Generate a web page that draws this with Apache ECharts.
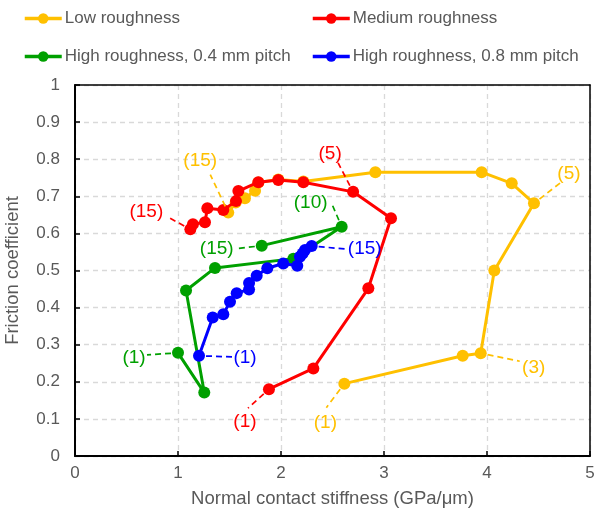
<!DOCTYPE html>
<html><head><meta charset="utf-8">
<script src="https://cdn.jsdelivr.net/npm/echarts@6/dist/echarts.min.js"></script>
<style>html,body{margin:0;padding:0;background:#fff}#c{width:595px;height:514px}</style>
</head><body><div id="c"></div>
<script>
// ---- data ----
const seriesNames = ['Low roughness', 'Medium roughness', 'High roughness, 0.4 mm pitch', 'High roughness, 0.8 mm pitch'];
const lowX  = [2.615, 3.764, 3.939, 4.071, 4.456, 4.240, 3.948, 2.916, 2.217, 1.974, 1.780, 1.748, 1.650, 1.560, 1.488];
const lowY  = [0.195, 0.270, 0.277, 0.500, 0.681, 0.735, 0.765, 0.765, 0.740, 0.745, 0.737, 0.715, 0.695, 0.683, 0.656];
const medX  = [1.883, 2.314, 2.848, 3.068, 2.700, 2.217, 1.974, 1.780, 1.586, 1.563, 1.440, 1.285, 1.262, 1.145, 1.120];
const medY  = [0.180, 0.236, 0.452, 0.641, 0.712, 0.738, 0.744, 0.738, 0.714, 0.687, 0.663, 0.668, 0.630, 0.625, 0.611];
const high4X = [1.000, 1.255, 1.078, 1.359, 2.120, 2.589, 1.813];
const high4Y = [0.278, 0.171, 0.446, 0.507, 0.532, 0.618, 0.567];
const high8X = [1.204, 1.337, 1.440, 1.505, 1.570, 1.690, 1.690, 1.764, 1.867, 2.022, 2.158, 2.184, 2.210, 2.233, 2.298];
const high8Y = [0.270, 0.373, 0.382, 0.416, 0.439, 0.449, 0.466, 0.486, 0.506, 0.519, 0.513, 0.537, 0.546, 0.555, 0.566];
const xTickValues = [0, 1, 2, 3, 4, 5];
const yTickValues = [0, 0.1, 0.2, 0.3, 0.4, 0.5, 0.6, 0.7, 0.8, 0.9, 1];
// annotation texts: [series index, point index, label]
const annotations = [
  [0, 14, '(15)'], [0, 4, '(5)'], [0, 2, '(3)'], [0, 0, '(1)'],
  [1, 4, '(5)'], [1, 14, '(15)'], [1, 0, '(1)'],
  [2, 5, '(10)'], [2, 6, '(15)'], [2, 0, '(1)'],
  [3, 14, '(15)'], [3, 0, '(1)']
];

// ---- styling / layout ----
const colors = ['#FFC000', '#FF0000', '#00A000', '#0000FF'];
const seriesXY = [[lowX, lowY], [medX, medY], [high4X, high4Y], [high8X, high8Y]];
// pixel offsets relative to the anchor point: leader end, text centre
const annotationLayout = [
  {end: [-18, -38], txt: [-28, -52]},
  {end: [27, -21], txt: [35, -30]},
  {end: [39, 8], txt: [53, 15]},
  {end: [-18, 24], txt: [-19, 39]},
  {end: [-15, -29], txt: [-23, -38]},
  {end: [-22, -12], txt: [-44, -18]},
  {end: [-21, 19], txt: [-24, 33]},
  {end: [-9, -21], txt: [-31, -24]},
  {end: [-25, 3], txt: [-45, 3]},
  {end: [-31, 2], txt: [-44, 5]},
  {end: [34, 3], txt: [53, 3]},
  {end: [33, 1], txt: [46, 2]}
];
const FONT = "'Liberation Sans', Arial, sans-serif";
const TXT = '#595959';

const zOrder = [1, 4, 2, 3];
const lineSeries = seriesXY.map((xy, s) => ({
  name: seriesNames[s],
  type: 'line',
  data: xy[0].map((x, i) => [x, xy[1][i]]),
  symbol: 'circle',
  symbolSize: 12,
  lineStyle: {color: colors[s], width: 3},
  itemStyle: {color: colors[s]},
  z: zOrder[s] + 2,
  animation: false
}));

const annoSeries = {
  type: 'custom',
  coordinateSystem: 'cartesian2d',
  data: annotations.map(a => [seriesXY[a[0]][0][a[1]], seriesXY[a[0]][1][a[1]], a[0]]),
  encode: {x: 0, y: 1},
  clip: false,
  silent: true,
  z: 10,
  animation: false,
  renderItem: function (params, api) {
    const p = api.coord([api.value(0), api.value(1)]);
    const lay = annotationLayout[params.dataIndex];
    const a = annotations[params.dataIndex];
    const c = colors[a[0]];
    const len = Math.hypot(lay.end[0], lay.end[1]);
    const g = 7 / len;
    return {
      type: 'group',
      children: [
        {type: 'line', shape: {x1: p[0] + lay.end[0] * g, y1: p[1] + lay.end[1] * g, x2: p[0] + lay.end[0], y2: p[1] + lay.end[1]},
         style: {stroke: c, lineWidth: 1.7, lineDash: [6, 4]}},
        {type: 'text', x: p[0] + lay.txt[0], y: p[1] + lay.txt[1],
         style: {text: a[2], fill: c, font: '19px ' + FONT, align: 'center', verticalAlign: 'middle', textAlign: 'center', textVerticalAlign: 'middle'}}
      ]
    };
  }
};

const legendBase = {
  orient: 'horizontal', padding: 0, itemWidth: 37, itemHeight: 13, itemGap: 10,
  lineStyle: {width: 3.5},
  textStyle: {color: TXT, fontSize: 17, fontFamily: FONT, padding: [0, 0, 0, -2]},
  selectedMode: false
};

const frameAxis = {
  type: 'value', axisLabel: {show: false}, axisTick: {show: false}, splitLine: {show: false},
  axisLine: {show: true, onZero: false, lineStyle: {color: '#000', width: 1.5}}
};

const chart = echarts.init(document.getElementById('c'), null, {renderer: 'canvas'});
chart.setOption({
  animation: false,
  backgroundColor: '#fff',
  legend: [
    Object.assign({}, legendBase, {data: [seriesNames[0]], left: 23, top: 10}),
    Object.assign({}, legendBase, {data: [seriesNames[1]], left: 311, top: 10}),
    Object.assign({}, legendBase, {data: [seriesNames[2]], left: 23, top: 48}),
    Object.assign({}, legendBase, {data: [seriesNames[3]], left: 311, top: 48})
  ],
  grid: {left: 75, right: 5, top: 85, bottom: 58, containLabel: false, outerBoundsMode: 'none'},
  xAxis: [{
    type: 'value', min: xTickValues[0], max: xTickValues[xTickValues.length - 1], interval: 1,
    name: 'Normal contact stiffness (GPa/μm)', nameLocation: 'middle', nameGap: 33,
    nameTextStyle: {color: TXT, fontSize: 18.5, fontFamily: FONT},
    axisLine: {show: true, onZero: false, lineStyle: {color: '#000', width: 2}},
    axisTick: {show: true, inside: true, length: 5, lineStyle: {color: '#000', width: 1.5}},
    axisLabel: {color: TXT, fontSize: 17, fontFamily: FONT, margin: 9},
    splitLine: {show: true, lineStyle: {color: '#D9D9D9', type: [5, 4], width: 1.3}}
  }, Object.assign({}, frameAxis, {position: 'top', min: 0, max: 5})],
  yAxis: [{
    type: 'value', min: yTickValues[0], max: yTickValues[yTickValues.length - 1], interval: 0.1,
    name: 'Friction coefficient', nameLocation: 'middle', nameGap: 53, nameRotate: 90,
    nameTextStyle: {color: TXT, fontSize: 18.5, fontFamily: FONT},
    axisLine: {show: true, onZero: false, lineStyle: {color: '#000', width: 2}},
    axisTick: {show: true, inside: true, length: 5, lineStyle: {color: '#000', width: 1.5}},
    axisLabel: {color: TXT, fontSize: 17, fontFamily: FONT, margin: 15,
      formatter: v => String(Math.round(v * 10) / 10)},
    splitLine: {show: true, lineStyle: {color: '#D9D9D9', type: [5, 4], width: 1.3}}
  }, Object.assign({}, frameAxis, {position: 'right', min: 0, max: 1})],
  series: lineSeries.concat([annoSeries])
});
</script>
</body></html>
